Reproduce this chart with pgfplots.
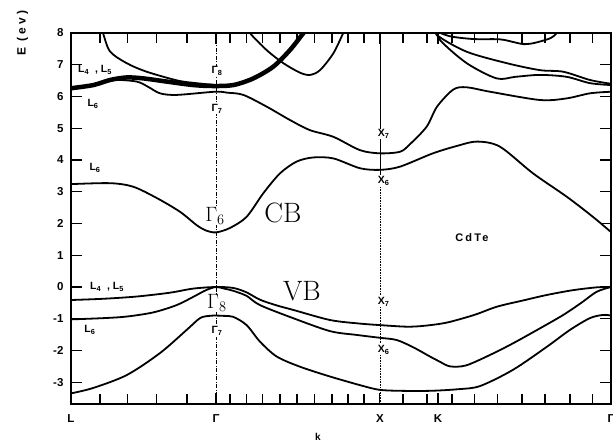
\documentclass[border=0pt]{standalone}
\usepackage{fontspec}
\setsansfont{Liberation Sans}
\usepackage{pgfplots}
\pgfplotsset{compat=1.18}

\begin{document}
\begin{tikzpicture}[
    lbl/.style={font=\sffamily\bfseries\fontsize{10.5}{12}\selectfont, fill=white, inner sep=1pt},
    big/.style={font=\fontsize{28}{30}\selectfont, inner sep=0pt},
]
\begin{axis}[
    scale only axis, width=540pt, height=371pt,
    xmin=0, xmax=3.281, ymin=-3.685, ymax=8,
    axis line style={line width=1.4pt},
    xtick={0,0.881,1.877,2.230,3.281},
    xticklabels={L,Γ,X,K,Γ},
    minor xtick={0.176,0.346,0.522,0.705,0.966,1.069,1.166,1.270,1.373,1.482,1.586,1.683,1.780,2.017,2.163,2.315,2.454,2.594,2.740,2.880,3.032,3.171},
    ytick={-3,-2,-1,0,1,2,3,4,5,6,7,8},
    yticklabels={-3,-2,-1,0,1,2,3,4,5,6,7,8},
    tick style={black, line width=1.1pt},
    major tick length=11pt, minor tick length=10pt,
    ticklabel style={font=\sffamily\bfseries\fontsize{11.5}{13}\selectfont},
    xticklabel style={yshift=-7pt},
    yticklabel style={xshift=-4pt},
    clip mode=individual,
    band/.style={black, line width=1.8pt, smooth, tension=0.5},
]
% symmetry lines
\addplot[black, line width=0.6pt, dash pattern=on 4pt off 1.5pt on 1pt off 1.5pt] coordinates {(0.881,-3.685) (0.881,8)};
\addplot[black, line width=0.6pt] coordinates {(1.877,8) (1.877,3.4)};
\addplot[black, line width=0.6pt, densely dotted] coordinates {(1.877,3.4) (1.877,-3.685)};

% valence bands
\addplot[band] coordinates {
  (0,-0.41) (0.20,-0.37) (0.40,-0.30) (0.60,-0.18) (0.743,-0.05) (0.881,0.0) (0.986,-0.03) (1.067,-0.17) (1.148,-0.40) (1.25,-0.58) (1.349,-0.72) (1.574,-1.04) (1.75,-1.15) (1.877,-1.20) (2.041,-1.25) (2.15,-1.22) (2.284,-1.12) (2.45,-0.88) (2.588,-0.62) (2.75,-0.42) (2.892,-0.25) (3.05,-0.10) (3.196,-0.01) (3.281,0.0)
};
\addplot[band] coordinates {
  (0,-1.02) (0.20,-0.98) (0.34,-0.93) (0.50,-0.80) (0.642,-0.57) (0.743,-0.31) (0.82,-0.10) (0.881,0.0) (0.93,-0.05) (0.986,-0.12) (1.067,-0.28) (1.148,-0.57) (1.349,-0.98) (1.574,-1.39) (1.736,-1.51) (1.877,-1.60) (1.979,-1.67) (2.080,-1.90) (2.181,-2.19) (2.24,-2.35) (2.303,-2.50) (2.40,-2.47) (2.55,-2.13) (2.687,-1.77) (2.85,-1.30) (2.991,-0.88) (3.10,-0.50) (3.194,-0.15) (3.281,0.0)
};
\addplot[band] coordinates {
  (0,-3.35) (0.135,-3.18) (0.34,-2.77) (0.541,-2.08) (0.703,-1.35) (0.784,-0.98) (0.84,-0.91) (0.881,-0.90) (0.93,-0.91) (0.986,-0.94) (1.067,-1.20) (1.148,-1.72) (1.25,-2.19) (1.391,-2.51) (1.574,-2.82) (1.776,-3.12) (1.877,-3.24) (2.0,-3.27) (2.181,-3.27) (2.35,-3.22) (2.485,-3.12) (2.685,-2.61) (2.892,-1.88) (3.032,-1.35) (3.153,-0.98) (3.232,-0.88) (3.281,-0.90)
};

% conduction bands
\addplot[band] coordinates {
  (0,3.24) (0.237,3.27) (0.377,3.16) (0.522,2.80) (0.662,2.37) (0.763,1.95) (0.82,1.78) (0.881,1.72) (0.966,1.86) (1.067,2.21) (1.168,2.95) (1.27,3.58) (1.371,3.95) (1.472,4.08) (1.594,4.05) (1.756,3.74) (1.877,3.69) (1.999,3.79) (2.199,4.21) (2.35,4.45) (2.467,4.58) (2.606,4.42) (2.807,3.58) (3.013,2.84) (3.171,2.21) (3.281,1.73)
};
\addplot[band] coordinates {
  (0,6.26) (0.134,6.38) (0.257,6.52) (0.399,6.47) (0.47,6.30) (0.541,6.10) (0.642,6.05) (0.875,6.15) (0.95,6.12) (1.047,6.05) (1.189,5.68) (1.330,5.26) (1.452,4.94) (1.594,4.73) (1.756,4.31) (1.877,4.21) (1.999,4.26) (2.06,4.50) (2.161,5.05) (2.224,5.68) (2.323,6.22) (2.404,6.29) (2.546,6.15) (2.849,5.89) (3.011,5.94) (3.153,6.10) (3.281,6.15)
};
\addplot[band] coordinates {
  (0.17,8.3) (0.194,8.0) (0.237,7.42) (0.338,7.05) (0.46,6.78) (0.65,6.50) (0.78,6.41) (0.881,6.36)
};
\addplot[band, line width=4.5pt] coordinates {
  (0,6.26) (0.136,6.36) (0.237,6.52) (0.338,6.60) (0.439,6.57) (0.581,6.47) (0.743,6.36) (0.865,6.33) (0.986,6.36) (1.108,6.57) (1.229,6.94) (1.330,7.46) (1.411,7.99) (1.46,8.3)
};
\addplot[band] coordinates {
  (1.06,8.3) (1.087,8.0) (1.189,7.46) (1.29,7.05) (1.391,6.75) (1.452,6.68) (1.513,6.83) (1.594,7.36) (1.654,8.0) (1.68,8.3)
};
\addplot[band] coordinates {
  (2.205,8.3) (2.222,7.94) (2.404,7.41) (2.647,7.05) (2.849,6.83) (2.991,6.78) (3.153,6.52) (3.281,6.40)
};
\addplot[band] coordinates {
  (2.215,8.2) (2.242,7.78) (2.404,7.05) (2.586,6.57) (2.70,6.62) (2.849,6.68) (3.011,6.62) (3.153,6.42) (3.281,6.36)
};
\addplot[band] coordinates {
  (2.20,8.1) (2.30,7.90) (2.444,7.81) (2.606,7.80) (2.70,7.70) (2.748,7.65) (2.81,7.68) (2.91,7.83) (2.951,8.0) (2.97,8.3)
};

% small labels
\node[lbl] at (axis cs:0.146,6.83) {L\textsubscript{4}\ \ ,\ L\textsubscript{5}};
\node[lbl] at (axis cs:0.134,5.76) {L\textsubscript{6}};
\node[lbl] at (axis cs:0.146,3.75) {L\textsubscript{6}};
\node[lbl] at (axis cs:0.887,6.80) {Γ\textsubscript{8}};
\node[lbl] at (axis cs:0.887,5.61) {Γ\textsubscript{7}};
\node[lbl] at (axis cs:1.90,4.82) {X\textsubscript{7}};
\node[lbl] at (axis cs:1.90,3.34) {X\textsubscript{6}};
\node[lbl] at (axis cs:0.219,0.0) {L\textsubscript{4}\ \ ,\ L\textsubscript{5}};
\node[lbl] at (axis cs:0.115,-1.35) {L\textsubscript{6}};
\node[lbl] at (axis cs:0.887,-1.39) {Γ\textsubscript{7}};
\node[lbl] at (axis cs:1.90,-0.47) {X\textsubscript{7}};
\node[lbl] at (axis cs:1.90,-1.98) {X\textsubscript{6}};
\node[lbl, fill=none, font=\sffamily\bfseries\fontsize{11}{12}\selectfont\addfontfeatures{LetterSpace=20}] at (axis cs:2.436,1.57) {CdTe};

% large labels
\node[big, fill=white, font=\fontsize{21}{23}\selectfont] at (axis cs:0.875,2.24) {$\Gamma_6$};
\node[big] at (axis cs:1.288,2.33) {CB};
\node[big, fill=white, font=\fontsize{21}{23}\selectfont] at (axis cs:0.887,-0.50) {$\Gamma_8$};
\node[big] at (axis cs:1.403,-0.13) {VB};

% axis titles
\node[rotate=90, font=\sffamily\bfseries\fontsize{12}{13}\selectfont\addfontfeatures{LetterSpace=25}] at (rel axis cs:-0.09,1.0) {E (ev)};
\node[font=\sffamily\bfseries\fontsize{10}{11}\selectfont] at (rel axis cs:0.457,-0.089) {k};
\end{axis}
\pgfresetboundingbox
\path ([xshift=-71pt,yshift=-38pt]current axis.south west) rectangle ([xshift=2pt,yshift=33pt]current axis.north east);
\end{tikzpicture}
\end{document}
